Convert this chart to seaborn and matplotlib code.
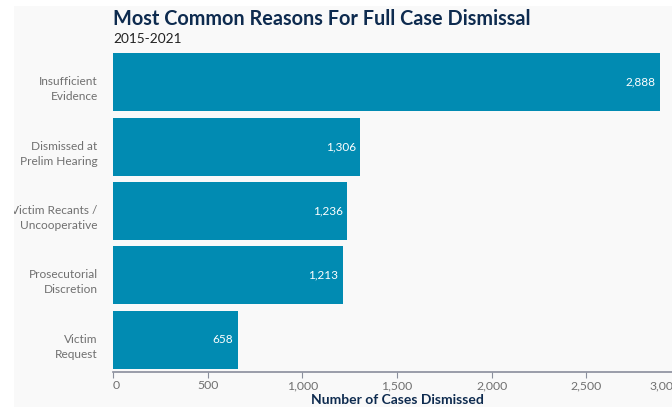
import matplotlib
matplotlib.use("Agg")
import matplotlib.pyplot as plt
import matplotlib.transforms as mtransforms
from matplotlib.patches import Rectangle
from matplotlib.ticker import FuncFormatter
import pandas as pd
import seaborn as sns

# data
reasons = ["Insufficient\nEvidence", "Dismissed at\nPrelim Hearing",
           "Victim Recants /\nUncooperative", "Prosecutorial\nDiscretion",
           "Victim\nRequest"]
cases = [2888, 1306, 1236, 1213, 658]
x_ticks = [0, 500, 1000, 1500, 2000, 2500, 3000]

df = pd.DataFrame({"reason": reasons, "cases": cases})

sns.set_theme(style="white")
plt.rcParams["font.family"] = ["Lato", "DejaVu Sans"]

panel = "#f9f9f9"
bar_col = "#018bb2"
navy = "#0e2b4f"
grey = "#707070"

fig = plt.figure(figsize=(6.72, 4.07), dpi=100, facecolor="white")
W, H = 672, 407
ax = fig.add_axes([113.0 / W, (H - 372) / H, (681 - 113.0) / W, (372 - 50) / H])
ax.set_facecolor(panel)

# grey panel behind everything
fig.patches.append(Rectangle((14 / W, 0), 1, (H - 6) / H, transform=fig.transFigure,
                             facecolor=panel, edgecolor="none", zorder=-10))

sns.barplot(data=df, y="reason", x="cases", orient="h", color=bar_col,
            saturation=1, width=0.9, linewidth=0, ax=ax)

for i, v in enumerate(cases):
    ax.text(v - 22, i, f"{v:,}", color="white", ha="right", va="center", fontsize=8.5)

ax.set_xlim(0, 3000)
ax.set_ylim(4.5, -0.5)
ax.set_xticks(x_ticks)
ax.xaxis.set_major_formatter(FuncFormatter(lambda v, p: f"{int(v):,}"))
ax.tick_params(axis="x", colors="#8a8e9c", labelcolor=grey, labelsize=8.8,
               length=4, width=0.8, pad=2, direction="out", bottom=True)
ax.tick_params(axis="y", left=False, length=0, labelcolor=grey, labelsize=8.6, pad=11)

# first / last x labels flush with the axis ends
xlabs = ax.get_xticklabels()
xlabs[0].set_horizontalalignment("left")
xlabs[-1].set_horizontalalignment("right")

shift_down = mtransforms.ScaledTranslation(0, -4 / 100, fig.dpi_scale_trans)
for lab in ax.get_yticklabels():
    lab.set_linespacing(1.45)
    lab.set_horizontalalignment("right")
    lab.set_transform(lab.get_transform() + shift_down)

for s in ["top", "right", "left"]:
    ax.spines[s].set_visible(False)
ax.spines["bottom"].set_color("#8a8e9c")
ax.spines["bottom"].set_linewidth(1.2)

ax.set_ylabel("")
ax.set_xlabel("Number of Cases Dismissed", fontsize=10, fontweight="bold",
              color=navy, labelpad=2)

fig.text(113 / W, (H - 19) / H, "Most Common Reasons For Full Case Dismissal",
         fontsize=14.3, fontweight="bold", color=navy, va="center", ha="left")
fig.text(113 / W, (H - 39) / H, "2015-2021", fontsize=9.8, color="#222222",
         va="center", ha="left")

# white margin that clips the left-most label like the original
fig.patches.append(Rectangle((0, 0), 14 / W, 1, transform=fig.transFigure,
                             facecolor="white", edgecolor="none", zorder=10))

fig.savefig("out.png", dpi=100, facecolor="white")
